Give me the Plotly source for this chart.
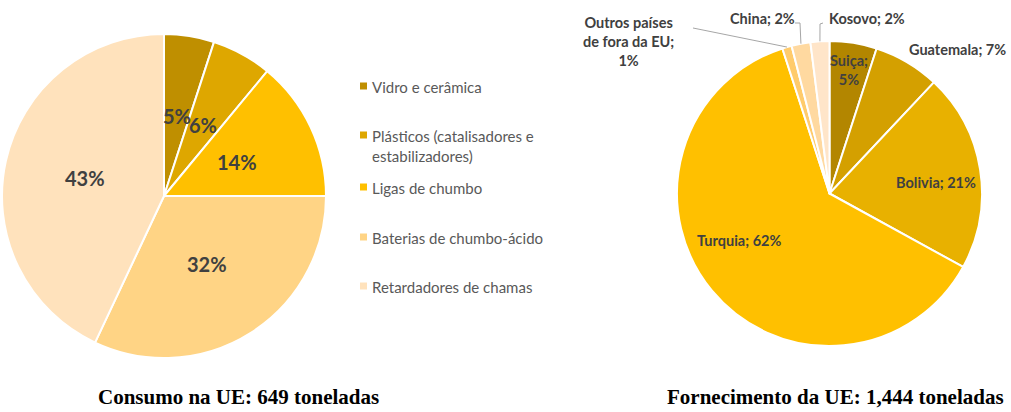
import math
import textwrap
import plotly.graph_objects as go

W, H = 1011, 412

# --- data -------------------------------------------------------------
consumo_labels = [
    "Vidro e cerâmica",
    "Plásticos (catalisadores e estabilizadores)",
    "Ligas de chumbo",
    "Baterias de chumbo-ácido",
    "Retardadores de chamas",
]
consumo_pct = [5, 6, 14, 32, 43]
consumo_colors = ["#BF8F00", "#DEA700", "#FFC000", "#FFD485", "#FFE2BC"]

fornec_labels = ["Suiça", "Guatemala", "Bolivia", "Turquia",
                 "Outros países de fora da EU", "China", "Kosovo"]
fornec_pct = [5, 7, 21, 62, 1, 2, 2]
fornec_colors = ["#B38600", "#D4A000", "#E8B100", "#FFC000",
                 "#FFCB6B", "#FFD9A0", "#FFE5C9"]

title_consumo = "Consumo na UE: 649 toneladas"
title_fornec = "Fornecimento da UE: 1,444 toneladas"

# --- geometry (pixels) ------------------------------------------------
left_center, left_r = (164, 196), 162
right_center, right_r = (829.5, 193.5), 152.5

LABEL_FONT = "Lato, 'Open Sans', sans-serif"
DARK = "#404040"
GREY = "#595959"


def px(x, y):
    return x / W, 1 - y / H


def domain(center, r):
    cx, cy = center
    return dict(x=[(cx - r) / W, (cx + r) / W],
                y=[1 - (cy + r) / H, 1 - (cy - r) / H])


def mid_angles(values):
    total = sum(values)
    out, acc = [], 0
    for v in values:
        out.append((acc + v / 2) / total * 360)
        acc += v
    return out


def polar_point(center, r, angle_deg):
    a = math.radians(angle_deg)
    return center[0] + r * math.sin(a), center[1] - r * math.cos(a)


def note(x, y, text, size, color, family=LABEL_FONT, xanchor="center",
         yanchor="middle", align="center"):
    xp, yp = px(x, y)
    return dict(x=xp, y=yp, xref="paper", yref="paper", showarrow=False,
                xanchor=xanchor, yanchor=yanchor, align=align, text=text,
                font=dict(family=family, size=size, color=color))


fig = go.Figure()

fig.add_trace(go.Pie(
    labels=consumo_labels, values=consumo_pct, sort=False,
    direction="clockwise", rotation=0, textinfo="none", hoverinfo="label+percent",
    marker=dict(colors=consumo_colors, line=dict(color="white", width=2)),
    domain=domain(left_center, left_r), showlegend=False,
))
fig.add_trace(go.Pie(
    labels=fornec_labels, values=fornec_pct, sort=False,
    direction="clockwise", rotation=0, textinfo="none", hoverinfo="label+percent",
    marker=dict(colors=fornec_colors, line=dict(color="white", width=2)),
    domain=domain(right_center, right_r), showlegend=False,
))

annotations = []
shapes = []

# percentage labels inside the consumption pie
for pct, ang in zip(consumo_pct, mid_angles(consumo_pct)):
    x, y = polar_point(left_center, left_r * 0.5, ang)
    annotations.append(note(x, y, f"<b>{pct}%</b>", 20, DARK))

# labels of the supply pie: inside ones placed along the slice bisector,
# outside ones at fixed spots with leader lines back to the slice edge
fornec_label_style = [
    dict(kind="in", frac=0.82, dang=0, wrap=7),
    dict(kind="out", pos=(957, 50), wrap=None),
    dict(kind="in", frac=0.70, dang=3, wrap=None),
    dict(kind="in", frac=0.67, dang=12, wrap=None),
    dict(kind="out", pos=(628, 42), wrap=14, lead=[(693, 28)]),
    dict(kind="out", pos=(762, 19), wrap=None, lead=[(795, 23), (800, 23)]),
    dict(kind="out", pos=(867, 19), wrap=None, lead=[(823, 23), (820, 24)]),
]

for name, pct, ang, st in zip(fornec_labels, fornec_pct,
                              mid_angles(fornec_pct), fornec_label_style):
    text = f"{name}; {pct}%"
    if st["wrap"]:
        text = "<br>".join(textwrap.wrap(text, st["wrap"]))
    if st["kind"] == "in":
        x, y = polar_point(right_center, right_r * st["frac"], ang + st["dang"])
    else:
        x, y = st["pos"]
        if "lead" in st:
            pts = st["lead"] + [polar_point(right_center, right_r, ang)]
            for (x0, y0), (x1, y1) in zip(pts[:-1], pts[1:]):
                a0, b0 = px(x0, y0)
                a1, b1 = px(x1, y1)
                shapes.append(dict(type="line", xref="paper", yref="paper",
                                   x0=a0, y0=b0, x1=a1, y1=b1,
                                   line=dict(color="#A6A6A6", width=1)))
    annotations.append(note(x, y, f"<b>{text}</b>", 14.5, DARK))

# hand-built legend for the consumption pie
legend_rows_y = [86, 135, 187, 237, 286]
for name, color, ly in zip(consumo_labels, consumo_colors, legend_rows_y):
    a0, b0 = px(360, ly - 3.5)
    a1, b1 = px(367, ly + 3.5)
    shapes.append(dict(type="rect", xref="paper", yref="paper",
                       x0=a0, y0=b1, x1=a1, y1=b0,
                       fillcolor=color, line=dict(width=0)))
    lines = textwrap.wrap(name, 26)
    annotations.append(note(370, ly - 10, "<br>".join(lines), 15, GREY,
                            xanchor="left", yanchor="top", align="left"))

# captions below each pie
for text, cx in [(title_consumo, 238), (title_fornec, 835)]:
    annotations.append(note(cx, 411, f"<b>{text}</b>", 21, "#000000",
                            family="'Liberation Serif', 'Times New Roman', serif",
                            yanchor="bottom"))

fig.update_layout(
    width=W, height=H,
    margin=dict(l=0, r=0, t=0, b=0),
    paper_bgcolor="white", plot_bgcolor="white",
    annotations=annotations, shapes=shapes,
)

fig.write_html("out.html")
